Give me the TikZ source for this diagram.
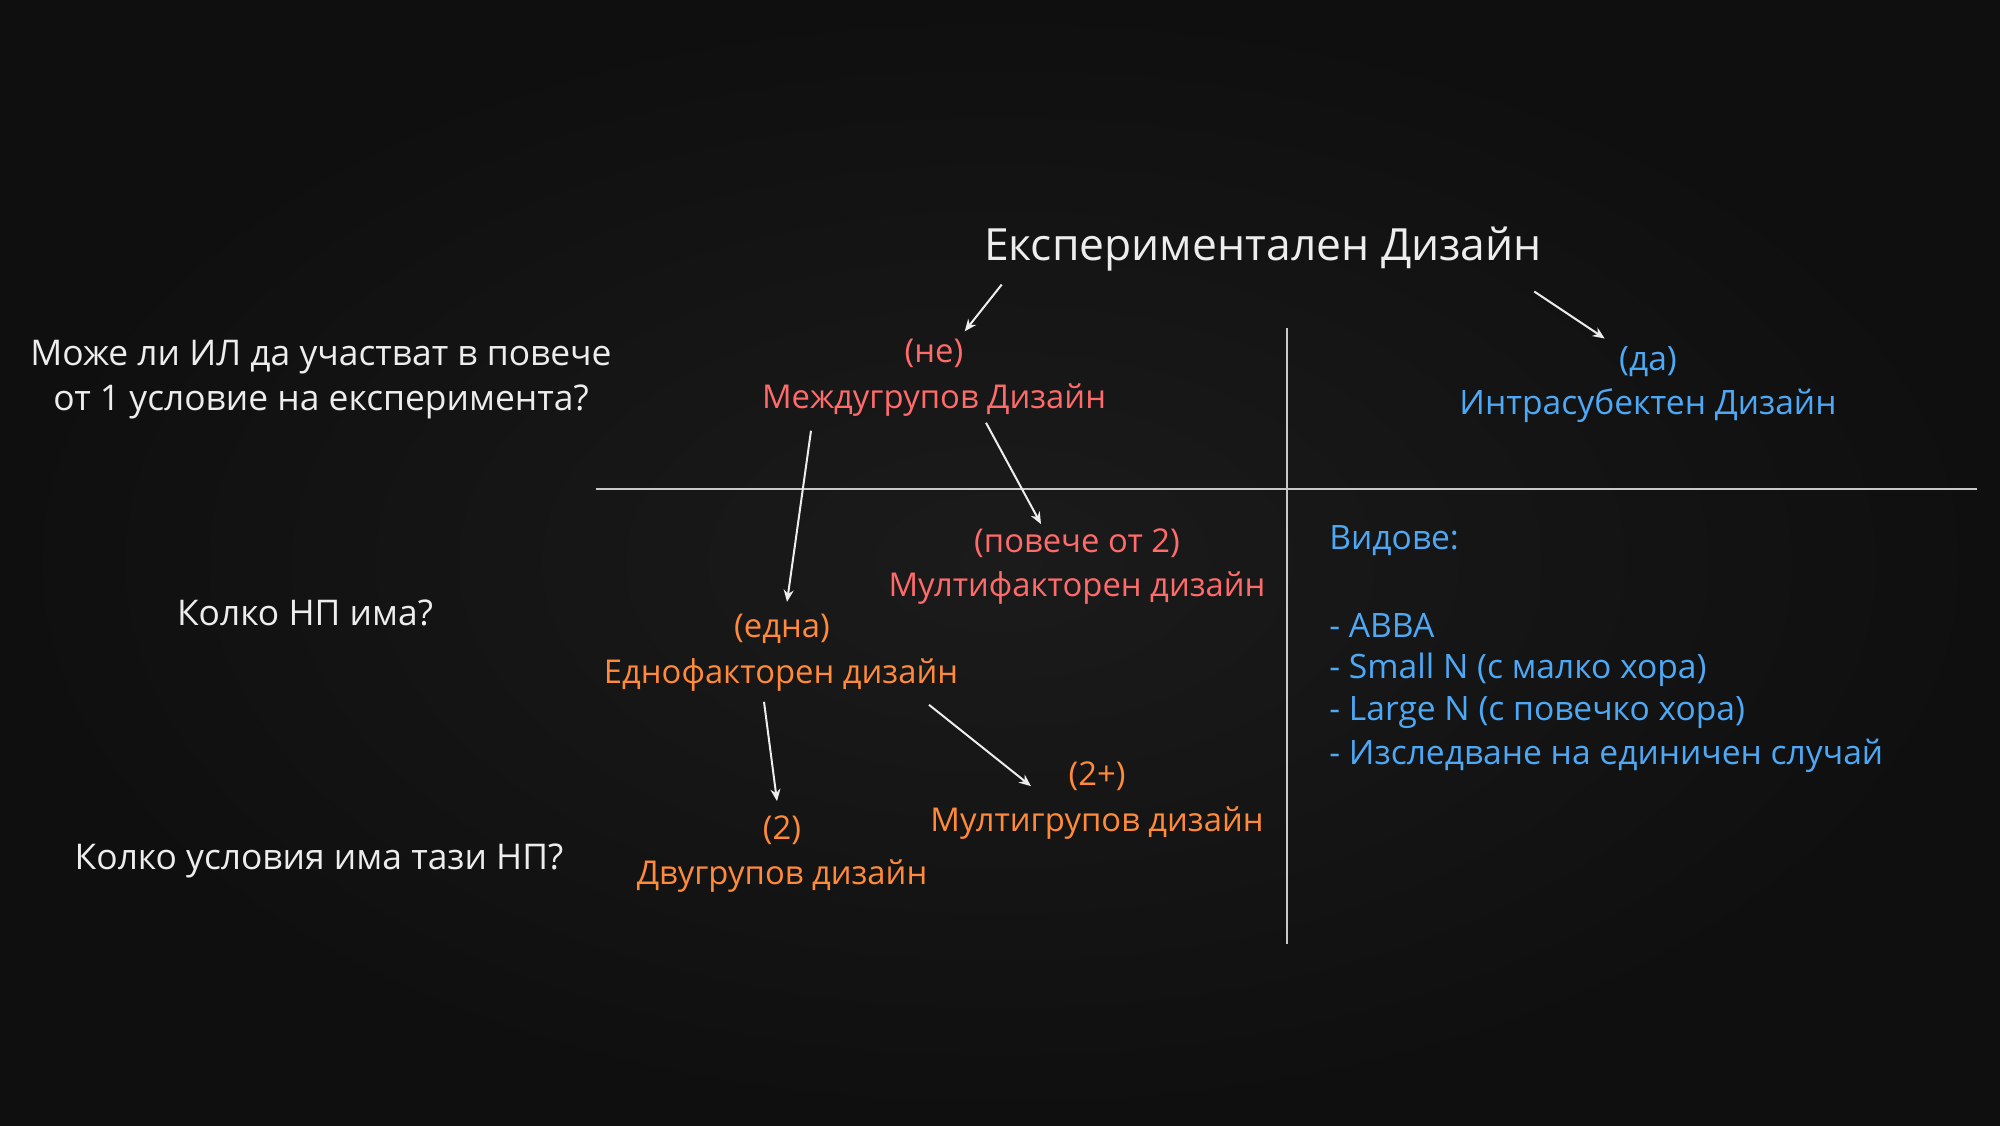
\documentclass[tikz,border=0pt]{standalone}
\usepackage{fontspec}
\setmainfont{Open Sans}
\usetikzlibrary{arrows.meta}
\definecolor{bgin}{HTML}{1B1B1B}
\definecolor{bgout}{HTML}{0F0F0F}
\definecolor{wht}{HTML}{EDEDED}
\definecolor{redc}{HTML}{FF6B6B}
\definecolor{orc}{HTML}{FF8A3A}
\definecolor{blc}{HTML}{4DA8F5}
\tikzset{
  lbl/.style={inner sep=0pt, font=\fontsize{16.4}{22}\selectfont},
  wlbl/.style={lbl, text=wht},
  qlbl/.style={wlbl, font=\fontsize{17.7}{22.5}\selectfont},
  rlbl/.style={lbl, text=redc},
  olbl/.style={lbl, text=orc},
  blbl/.style={lbl, text=blc, font=\fontsize{16.8}{22}\selectfont},
  arr/.style={draw=wht, line width=1pt, -{Stealth[length=6pt,width=5pt]}},
  rule/.style={draw=wht!85!black, line width=1.1pt}
}
\begin{document}
\begin{tikzpicture}[x=0.5pt,y=-0.5pt]
\useasboundingbox (0,0) rectangle (2000,1125);
\shade[inner color=bgin, outer color=bgout] (0,0) rectangle (2000,1125);

% rules
\draw[rule] (1287,328) -- (1287,944);
\draw[rule] (596,489) -- (1977,489);

% title
\node[wlbl, font=\fontsize{22.2}{26}\selectfont] (title) at (1263,249) {Експериментален Дизайн};

% left questions
\node[qlbl, align=center] (q1) at (321,380) {Може ли ИЛ да участват в повече\\от 1 условие на експеримента?};
\node[qlbl] (q2) at (305,613) {Колко НП има?};
\node[qlbl] (q3) at (319,861) {Колко условия има тази НП?};

% between-subjects branch
\node[rlbl] (ne) at (934,353) {(не)};
\node[rlbl] (between) at (934,400) {Междугрупов Дизайн};
\node[rlbl] (more2) at (1077,543) {(повече от 2)};
\node[rlbl] (multifac) at (1077,588) {Мултифакторен дизайн};
\node[olbl] (edna) at (782,629) {(една)};
\node[olbl] (onefac) at (781,675) {Еднофакторен дизайн};
\node[olbl] (two) at (782,830) {(2)};
\node[olbl] (twogroup) at (782,876) {Двугрупов дизайн};
\node[olbl] (twoplus) at (1097,776) {(2+)};
\node[olbl] (multigroup) at (1097,823) {Мултигрупов дизайн};

% within-subjects branch
\node[blbl] (da) at (1648,362) {(да)};
\node[blbl] (within) at (1648,406) {Интрасубектен Дизайн};
\node[blbl, anchor=west] (vidove) at (1329,541) {Видове:};
\node[blbl, anchor=west] (l1) at (1329,625) {- ABBA};
\node[blbl, anchor=west] (l2) at (1329,670) {- Small N (с малко хора)};
\node[blbl, anchor=west] (l3) at (1329,713) {- Large N (с повечко хора)};
\node[blbl, anchor=west] (l4) at (1329,756) {- Изследване на единичен случай};

% arrows
\draw[arr] ([shift={(18,13)}]title.south west) -- ([shift={(1,-7)}]ne.north east);
\draw[arr] ([shift={(-8,20)}]title.south east) -- ([shift={(-14,-8)}]da.north west);
\draw[arr] ([shift={(-123,14)}]between.south) -- ([shift={(5,-12)}]edna.north);
\draw[arr] ([shift={(52,6)}]between.south) -- ([shift={(-36,-4)}]more2.north);
\draw[arr] ([shift={(-17,10)}]onefac.south) -- ([shift={(-5,-14)}]two.north);
\draw[arr] ([shift={(148,13)}]onefac.south) -- ([shift={(-66,25)}]twoplus.north);
\end{tikzpicture}
\end{document}
